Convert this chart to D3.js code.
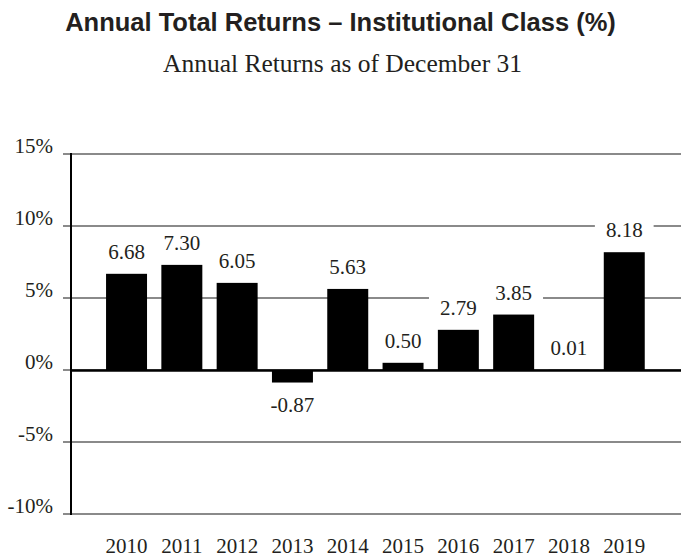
<!DOCTYPE html>
<html>
<head>
<meta charset="utf-8">
<script src="https://cdn.jsdelivr.net/npm/d3@7"></script>
<style>
  body { margin: 0; background: #fff; }
  svg { display: block; }
</style>
</head>
<body>
<svg id="chart" width="681" height="557"></svg>
<script>
// data
var years = ["2010", "2011", "2012", "2013", "2014", "2015", "2016", "2017", "2018", "2019"]
var returns = [6.68, 7.30, 6.05, -0.87, 5.63, 0.50, 2.79, 3.85, 0.01, 8.18]
var yTicks = [-10, -5, 0, 5, 10, 15]

var title = "Annual Total Returns \u2013 Institutional Class (%)"
var subtitle = "Annual Returns as of December 31"

var svg = d3.select("#chart")
var W = 681, H = 557
var serif = "'Liberation Serif', 'Times New Roman', serif"
var ink = "#231f20"

var x = d3.scaleBand()
	.domain(years)
	.range([78.4, 672.4])
	.paddingInner(0.259)
	.paddingOuter(0.5)

var y = d3.scaleLinear()
	.domain([-10, 15])
	.range([514, 154])

var axisX = 71

svg.append("text")
	.attr("x", W / 2)
	.attr("y", 31)
	.attr("text-anchor", "middle")
	.attr("font-family", "'Liberation Sans', Arial, sans-serif")
	.attr("font-weight", "bold")
	.attr("font-size", 25.5)
	.attr("fill", ink)
	.text(title)

svg.append("text")
	.attr("x", W / 2 + 2)
	.attr("y", 72)
	.attr("text-anchor", "middle")
	.attr("font-family", serif)
	.attr("font-size", 25.5)
	.attr("fill", ink)
	.text(subtitle)

// gridlines
svg.append("g")
	.selectAll("line")
	.data(yTicks)
	.enter()
	.append("line")
	.attr("x1", 63)
	.attr("x2", W)
	.attr("y1", function(d) { return y(d) })
	.attr("y2", function(d) { return y(d) })
	.attr("stroke", "#8a8a8a")
	.attr("stroke-width", 2)

// y tick labels
svg.append("g")
	.selectAll("text")
	.data(yTicks)
	.enter()
	.append("text")
	.attr("x", 53)
	.attr("y", function(d) { return y(d) - 1.5 })
	.attr("text-anchor", "end")
	.attr("font-family", serif)
	.attr("font-size", 21)
	.attr("fill", ink)
	.text(function(d) { return d + "%" })

function labelY(d) {
	return d >= 0 ? y(d) - 15 : y(d) + 29
}

// value labels with white knock-out boxes
var labels = svg.append("g")
	.selectAll("g")
	.data(returns)
	.enter()
	.append("g")

labels.append("text")
	.attr("x", function(d, i) { return x(years[i]) + x.bandwidth() / 2 })
	.attr("y", labelY)
	.attr("text-anchor", "middle")
	.attr("font-family", serif)
	.attr("font-size", 21)
	.attr("fill", ink)
	.text(function(d) { return d.toFixed(2) })

labels.each(function(d) {
	var g = d3.select(this),
		t = g.select("text"),
		bb = t.node().getBBox()
	g.insert("rect", "text")
		.attr("x", bb.x - 11)
		.attr("width", bb.width + 22)
		.attr("y", labelY(d) - 7 - 15.5)
		.attr("height", 31)
		.attr("fill", "#fff")
})

// bars
svg.append("g")
	.selectAll("rect")
	.data(returns)
	.enter()
	.append("rect")
	.attr("x", function(d, i) { return x(years[i]) })
	.attr("width", x.bandwidth())
	.attr("y", function(d) { return y(Math.max(0, d)) })
	.attr("height", function(d) { return Math.abs(y(d) - y(0)) })
	.attr("fill", "#000")

// zero line and y axis
svg.append("line")
	.attr("x1", axisX)
	.attr("x2", W)
	.attr("y1", y(0) + 0.5)
	.attr("y2", y(0) + 0.5)
	.attr("stroke", "#000")
	.attr("stroke-width", 2.5)

svg.append("line")
	.attr("x1", axisX)
	.attr("x2", axisX)
	.attr("y1", y(15) - 1)
	.attr("y2", y(-10) + 1)
	.attr("stroke", "#000")
	.attr("stroke-width", 2)

// year labels
svg.append("g")
	.selectAll("text")
	.data(years)
	.enter()
	.append("text")
	.attr("x", function(d) { return x(d) + x.bandwidth() / 2 })
	.attr("y", 553)
	.attr("text-anchor", "middle")
	.attr("font-family", serif)
	.attr("font-size", 21)
	.attr("fill", ink)
	.text(function(d) { return d })
</script>
</body>
</html>
